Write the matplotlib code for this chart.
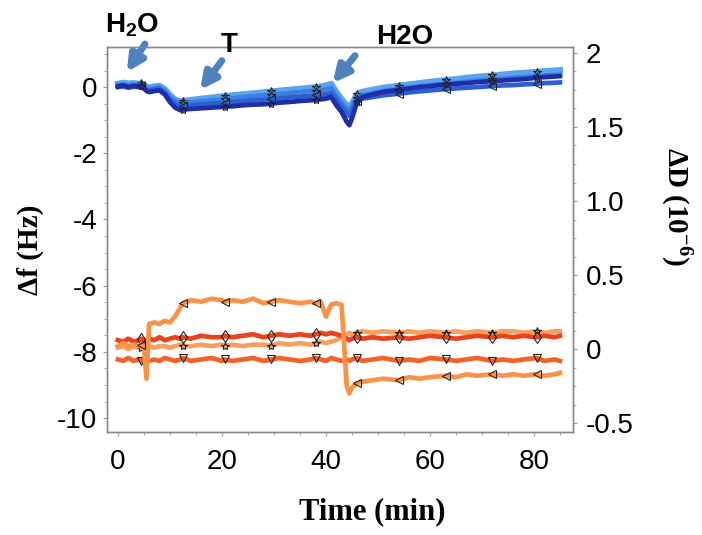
import matplotlib
matplotlib.use('Agg')
import matplotlib.pyplot as plt
from matplotlib.ticker import MultipleLocator, FixedLocator, FixedFormatter

plt.rcParams['font.family'] = ['Liberation Sans', 'DejaVu Sans']
plt.rcParams['axes.unicode_minus'] = False
plt.rcParams['mathtext.fontset'] = 'custom'
plt.rcParams['mathtext.rm'] = 'Liberation Serif:bold'
plt.rcParams['mathtext.bf'] = 'Liberation Serif:bold'
plt.rcParams['mathtext.sf'] = 'Liberation Sans:bold'

# 时间 (min)
time_min = [0, 1, 2, 3, 4, 4.5, 5, 5.5, 6, 7, 8, 9, 10, 11, 12, 12.5, 14, 16, 18, 20,
            20.5, 22, 24, 26, 28, 29.5, 31, 33, 35, 37, 38, 39, 40, 41, 42, 43, 44, 44.5, 45, 46,
            47, 49, 51, 54, 56, 58, 60, 63, 65, 67, 69, 72, 74, 76, 78, 80.5, 82, 84, 85]
marker_times = [4.5, 12.5, 20.5, 29.5, 38, 46, 54, 63, 72, 80.5]

# Δf (Hz), 蓝色
f_navy = [0.02, 0.05, 0.0, 0.04, 0.02, 0.03, 0.0, -0.12, -0.15, -0.12, -0.10, -0.22, -0.45, -0.62, -0.70, -0.68, -0.66, -0.64, -0.62, -0.60,
          -0.59, -0.58, -0.55, -0.53, -0.52, -0.50, -0.47, -0.45, -0.42, -0.40, -0.38, -0.37, -0.35, -0.30, -0.55, -0.75, -1.05, -1.15, -0.95, -0.45,
          -0.30, -0.22, -0.15, -0.08, -0.04, 0.0, 0.03, 0.08, 0.10, 0.12, 0.15, 0.18, 0.20, 0.22, 0.24, 0.28, 0.30, 0.32, 0.33]
f_royal = [0.0, 0.02, -0.02, 0.01, 0.0, 0.0, -0.02, -0.10, -0.12, -0.08, -0.06, -0.18, -0.38, -0.52, -0.60, -0.58, -0.56, -0.53, -0.50, -0.48,
           -0.47, -0.45, -0.43, -0.40, -0.38, -0.36, -0.34, -0.31, -0.29, -0.26, -0.24, -0.23, -0.22, -0.18, -0.40, -0.60, -0.80, -0.88, -0.75, -0.42,
           -0.35, -0.30, -0.25, -0.20, -0.16, -0.13, -0.10, -0.06, -0.04, -0.02, 0.0, 0.03, 0.05, 0.06, 0.08, 0.10, 0.12, 0.13, 0.14]
f_mid = [0.06, 0.08, 0.05, 0.07, 0.06, 0.06, 0.04, -0.05, -0.07, -0.03, -0.01, -0.12, -0.30, -0.44, -0.50, -0.49, -0.46, -0.43, -0.40, -0.37,
         -0.36, -0.34, -0.31, -0.28, -0.25, -0.23, -0.21, -0.18, -0.15, -0.12, -0.11, -0.10, -0.08, -0.03, -0.28, -0.48, -0.66, -0.72, -0.60, -0.32,
         -0.25, -0.18, -0.12, -0.06, -0.02, 0.02, 0.05, 0.10, 0.13, 0.16, 0.19, 0.23, 0.25, 0.28, 0.30, 0.33, 0.35, 0.36, 0.37]
f_light = [0.10, 0.13, 0.11, 0.12, 0.10, 0.11, 0.09, 0.0, -0.02, 0.02, 0.04, -0.06, -0.24, -0.38, -0.43, -0.42, -0.39, -0.35, -0.32, -0.28,
           -0.27, -0.25, -0.22, -0.19, -0.16, -0.13, -0.11, -0.08, -0.05, -0.02, 0.0, 0.02, 0.05, 0.10, -0.15, -0.36, -0.55, -0.62, -0.50, -0.22,
           -0.14, -0.08, -0.02, 0.04, 0.08, 0.12, 0.16, 0.21, 0.24, 0.28, 0.31, 0.35, 0.38, 0.41, 0.43, 0.46, 0.48, 0.50, 0.51]

# ΔD (10^-6), 橙色
d_jump = [0.02, 0.04, 0.02, 0.03, 0.02, 0.03, 0.02, -0.20, 0.17, 0.18, 0.17, 0.19, 0.18, 0.22, 0.28, 0.31, 0.33, 0.32, 0.34, 0.33,
          0.32, 0.33, 0.32, 0.34, 0.31, 0.32, 0.33, 0.32, 0.31, 0.32, 0.31, 0.32, 0.22, 0.30, 0.31, 0.30, -0.25, -0.30, -0.26, -0.23,
          -0.22, -0.21, -0.20, -0.21, -0.19, -0.20, -0.19, -0.18, -0.19, -0.17, -0.18, -0.17, -0.18, -0.17, -0.18, -0.17, -0.18, -0.17, -0.16]
d_red = [0.06, 0.05, 0.07, 0.05, 0.06, 0.07, 0.05, 0.06, 0.07, 0.06, 0.08, 0.06, 0.07, 0.08, 0.07, 0.08, 0.07, 0.09, 0.08, 0.08,
         0.09, 0.08, 0.09, 0.10, 0.08, 0.09, 0.10, 0.09, 0.10, 0.09, 0.10, 0.11, 0.10, 0.11, 0.10, 0.09, 0.07, 0.06, 0.07, 0.08,
         0.07, 0.08, 0.07, 0.08, 0.07, 0.08, 0.09, 0.08, 0.07, 0.08, 0.09, 0.08, 0.09, 0.08, 0.09, 0.08, 0.09, 0.08, 0.09]
d_star = [0.01, 0.02, 0.0, 0.02, 0.01, 0.01, 0.02, 0.01, 0.02, 0.01, 0.02, 0.02, 0.01, 0.02, 0.03, 0.02, 0.02, 0.03, 0.02, 0.03,
          0.02, 0.03, 0.02, 0.03, 0.03, 0.02, 0.04, 0.03, 0.04, 0.03, 0.04, 0.05, 0.04, 0.05, 0.06, 0.08, 0.10, 0.11, 0.10, 0.11,
          0.12, 0.11, 0.12, 0.11, 0.12, 0.11, 0.12, 0.11, 0.12, 0.11, 0.12, 0.11, 0.12, 0.12, 0.11, 0.12, 0.11, 0.12, 0.12]
d_down = [-0.07, -0.08, -0.06, -0.08, -0.07, -0.08, -0.07, -0.06, -0.08, -0.07, -0.08, -0.06, -0.07, -0.08, -0.07, -0.06, -0.08, -0.07, -0.06, -0.08,
          -0.07, -0.08, -0.07, -0.06, -0.08, -0.07, -0.06, -0.07, -0.08, -0.07, -0.06, -0.07, -0.08, -0.06, -0.07, -0.08, -0.07, -0.08, -0.07, -0.06,
          -0.08, -0.07, -0.06, -0.08, -0.07, -0.08, -0.06, -0.07, -0.08, -0.07, -0.06, -0.08, -0.07, -0.08, -0.07, -0.06, -0.08, -0.07, -0.08]

marker_idx = [time_min.index(m) for m in marker_times]

fig = plt.figure(figsize=(7.02, 5.35), dpi=100)
ax = fig.add_axes([0.1524, 0.1925, 0.6638, 0.7196])
ax2 = ax.twinx()

lw = 3.4
mk = dict(markevery=marker_idx, markersize=6, markerfacecolor='none', markeredgecolor='#222222', markeredgewidth=0.8)

# 频率 (左轴)
ax.plot(time_min, f_light, color='#5BA3EE', lw=lw + 1, marker='*', **mk)
ax.plot(time_min, f_mid, color='#3C7FE3', lw=lw, marker='*', **mk)
ax.plot(time_min, f_royal, color='#2D5FD3', lw=lw, marker='<', **mk)
ax.plot(time_min, f_navy, color='#1F2DA8', lw=lw, marker='*', **mk)

# 耗散 (右轴)
ax2.plot(time_min, d_down, color='#F0632A', lw=lw, marker='v', **mk)
ax2.plot(time_min, d_star, color='#F6A060', lw=lw, marker='*', **mk)
ax2.plot(time_min, d_red, color='#E9431E', lw=lw, marker='d', **mk)
ax2.plot(time_min, d_jump, color='#F7944A', lw=lw, marker='<', **mk)

ax.set_xlim(-2.1, 87.5)
ax.set_ylim(-10.42, 1.21)
ax2.set_ylim(-0.56, 2.04)

ax.xaxis.set_major_locator(MultipleLocator(20))
ax.xaxis.set_minor_locator(MultipleLocator(5))
ax.yaxis.set_major_locator(MultipleLocator(2))
ax.yaxis.set_minor_locator(MultipleLocator(0.5))
ax2.yaxis.set_major_locator(FixedLocator([-0.5, 0, 0.5, 1.0, 1.5, 2.0]))
ax2.yaxis.set_major_formatter(FixedFormatter(['-0.5', '0', '0.5', '1.0', '1.5', '2']))
ax2.yaxis.set_minor_locator(MultipleLocator(0.125))

for a in (ax, ax2):
    for s in a.spines.values():
        s.set_color('#888888')
        s.set_linewidth(1.0)
    a.tick_params(which='both', direction='out', color='#999999', labelsize=20)
    a.tick_params(which='major', length=3, width=0.8, pad=6)
    a.tick_params(which='minor', length=2, width=0.6)
ax.tick_params(axis='y', pad=4)
ax.tick_params(axis='x', pad=9)

ax.set_xlabel('Time (min)', fontsize=22, fontweight='bold', family='Liberation Serif', va='center')
ax.set_ylabel('Δf (Hz)', fontsize=21, fontweight='bold', family='Liberation Serif', va='center')
ax2.set_ylabel(r'ΔD (10$^{-6}$)', fontsize=21, fontweight='bold', family='Liberation Serif',
               rotation=-90, va='center')
ax.xaxis.set_label_coords(0.569, -0.208)
ax.yaxis.set_label_coords(-0.165, 0.473)
ax2.yaxis.set_label_coords(1.223, 0.587)

# 箭头与标注
arrow_col = '#4F81BD'
ap = dict(arrowstyle='-|>', lw=5, color=arrow_col, mutation_scale=24, shrinkA=0, shrinkB=0)
ax.annotate('', xy=(1.7, 0.45), xytext=(5.2, 1.3), arrowprops=ap, annotation_clip=False)
ax.annotate('', xy=(15.8, -0.09), xytext=(20.0, 0.8), arrowprops=ap, annotation_clip=False)
ax.annotate('', xy=(41.3, 0.12), xytext=(45.6, 0.95), arrowprops=ap, annotation_clip=False)

fig.text(132 / 702, 1 - 25 / 535, r'$\mathsf{H_2O}$', fontsize=20, ha='center', va='center')
fig.text(229 / 702, 1 - 45 / 535, 'T', fontsize=20, fontweight='bold', ha='center', va='center')
fig.text(405 / 702, 1 - 37 / 535, 'H2O', fontsize=20, fontweight='bold', ha='center', va='center')

fig.savefig('out.png', dpi=100)
